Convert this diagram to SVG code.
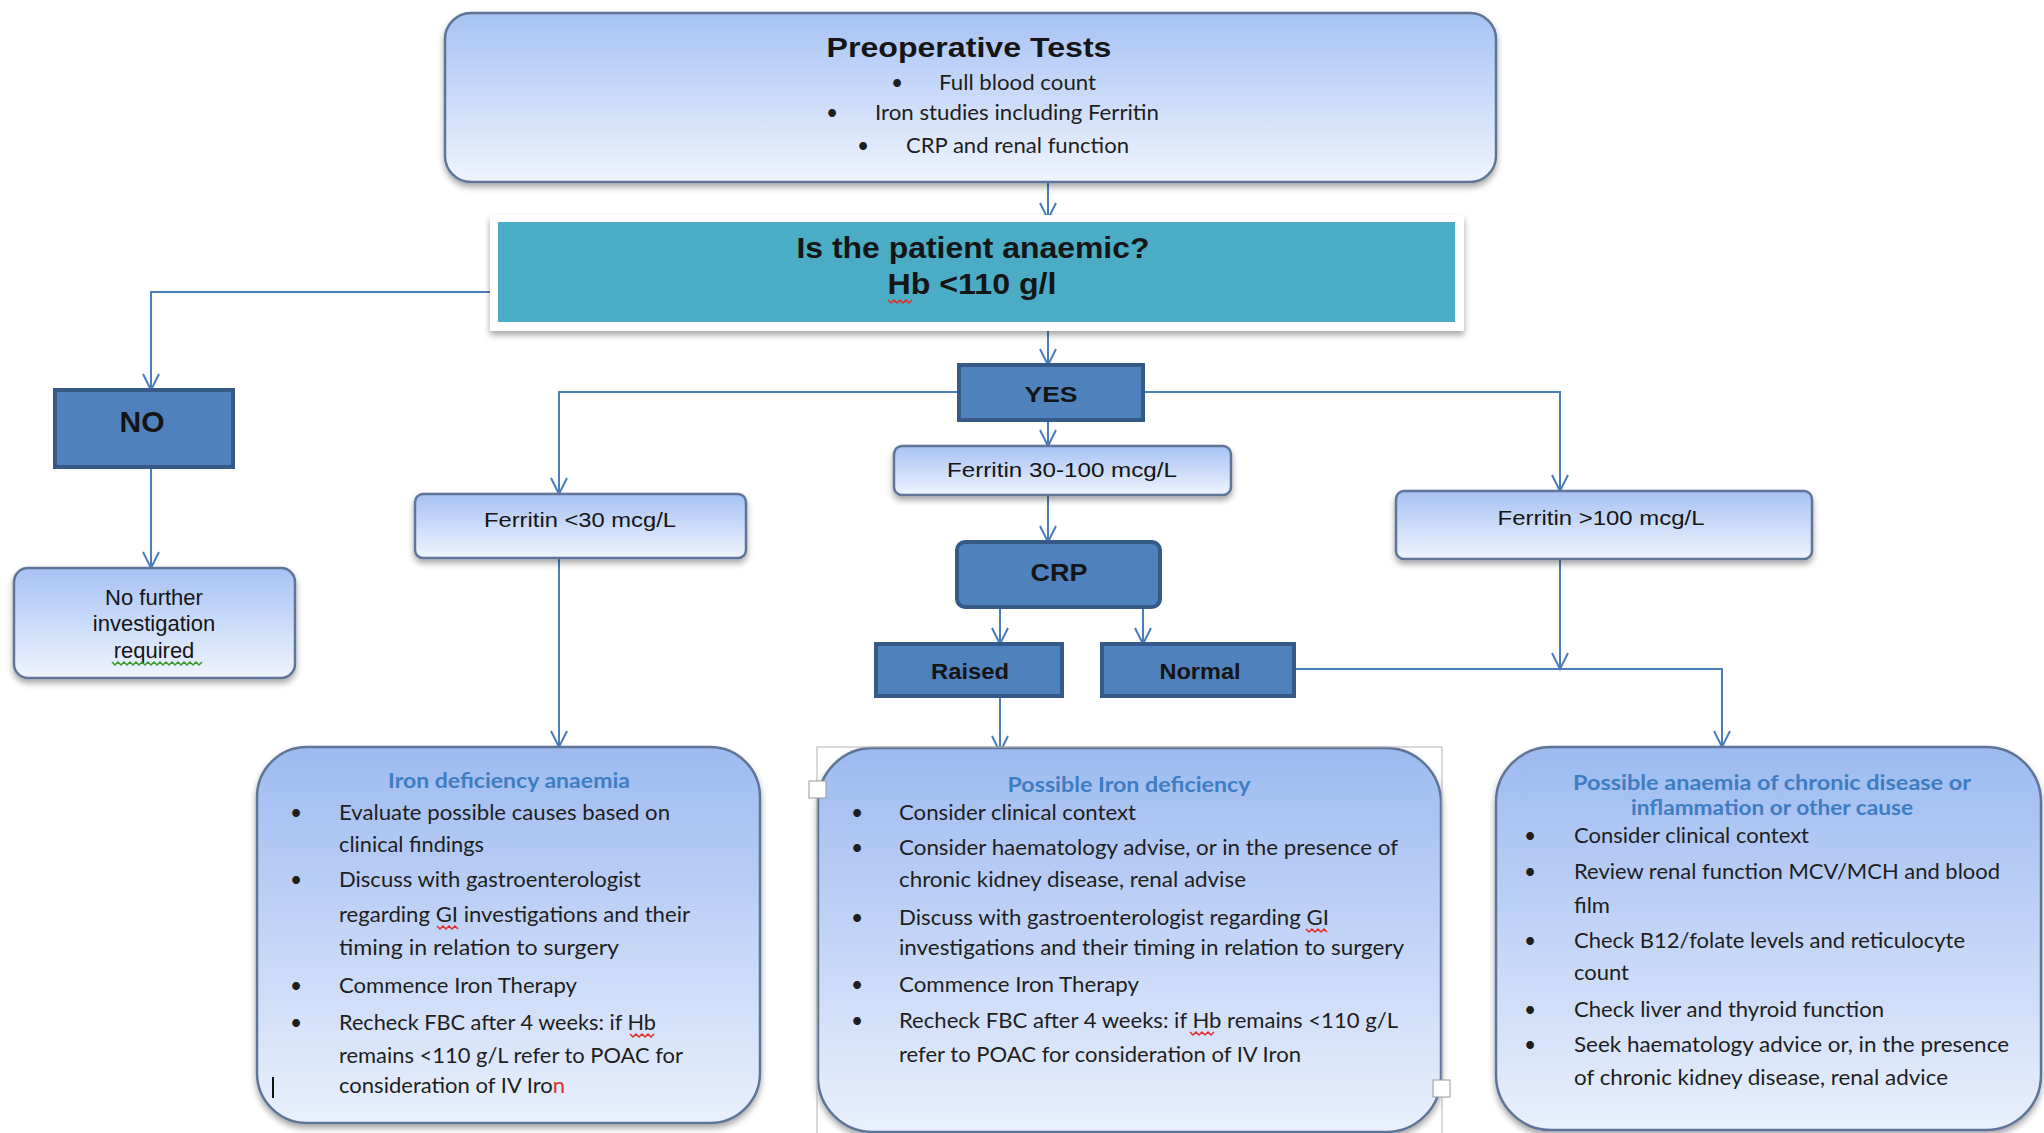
<svg xmlns="http://www.w3.org/2000/svg" width="2044" height="1133" viewBox="0 0 2044 1133">
<defs>
<style>
.conn{fill:none;stroke:#4a7ebb;stroke-width:2}
.dark{fill:#4f81bd;stroke:#355a88;stroke-width:4}
.light{fill:url(#gLight);stroke:#5f7598;stroke-width:2.5}
.big{fill:url(#gBig);stroke:#5f7598;stroke-width:2.5}
.a{font-family:"Liberation Sans",Arial,sans-serif;fill:#151515}
.ab{font-family:"Liberation Sans",Arial,sans-serif;font-weight:bold;fill:#151515}
.c{font-family:Lato,"Liberation Sans",sans-serif;fill:#1e1e1e;font-size:21px}
.t{font-family:Lato,"Liberation Sans",sans-serif;font-weight:bold;fill:#3f7dc2;font-size:21px}
.sq{fill:none;stroke:#e0302a;stroke-width:1.5}
</style>
<linearGradient id="gLight" x1="0" y1="0" x2="0" y2="1">
<stop offset="0" stop-color="#a6c2f3"/>
<stop offset="1" stop-color="#eff4fe"/>
</linearGradient>
<linearGradient id="gBig" x1="0" y1="0" x2="0" y2="1">
<stop offset="0" stop-color="#9dbaf0"/>
<stop offset="1" stop-color="#e9f0fd"/>
</linearGradient>
<filter id="sh" x="-5%" y="-10%" width="110%" height="130%">
<feDropShadow dx="0" dy="4" stdDeviation="3" flood-color="#000" flood-opacity="0.35"/>
</filter>
<marker id="arr" markerUnits="userSpaceOnUse" markerWidth="20" markerHeight="20" viewBox="0 0 20 20" refX="18" refY="10" orient="auto">
<path d="M2,2 L18,10 L2,18" fill="none" stroke="#4a7ebb" stroke-width="2"/>
</marker>
</defs>
<rect width="2044" height="1133" fill="#ffffff"/>

<g id="connectors">
<path class="conn" d="M1048,182 V219" marker-end="url(#arr)"/>
<path class="conn" d="M1048,322 V365" marker-end="url(#arr)"/>
<path class="conn" d="M498,292 H151 V390" marker-end="url(#arr)"/>
<path class="conn" d="M151,467 V568" marker-end="url(#arr)"/>
<path class="conn" d="M959,392 H559 V494" marker-end="url(#arr)"/>
<path class="conn" d="M1143,392 H1560 V491" marker-end="url(#arr)"/>
<path class="conn" d="M1048,420 V446" marker-end="url(#arr)"/>
<path class="conn" d="M1048,495 V542" marker-end="url(#arr)"/>
<path class="conn" d="M1000,607 V644" marker-end="url(#arr)"/>
<path class="conn" d="M1143,607 V644" marker-end="url(#arr)"/>
<path class="conn" d="M1000,696 V752" marker-end="url(#arr)"/>
<path class="conn" d="M1294,669 H1722 V747" marker-end="url(#arr)"/>
<path class="conn" d="M1560,559 V669" marker-end="url(#arr)"/>
<path class="conn" d="M559,558 V747" marker-end="url(#arr)"/>
</g>

<g id="preop">
<rect class="light" x="445" y="13" width="1051" height="169" rx="26" filter="url(#sh)"/>
<text class="ab" x="969" y="57" font-size="27" text-anchor="middle" textLength="285" lengthAdjust="spacingAndGlyphs">Preoperative Tests</text>
<text class="c" x="897" y="90" font-size="17" text-anchor="middle">•</text>
<text class="c" x="939" y="90" font-size="17" textLength="157" lengthAdjust="spacingAndGlyphs">Full blood count</text>
<text class="c" x="832" y="120" font-size="17" text-anchor="middle">•</text>
<text class="c" x="875" y="120" font-size="17" textLength="284" lengthAdjust="spacingAndGlyphs">Iron studies including Ferritin</text>
<text class="c" x="863" y="153" font-size="17" text-anchor="middle">•</text>
<text class="c" x="906" y="153" font-size="17" textLength="223" lengthAdjust="spacingAndGlyphs">CRP and renal function</text>
</g>

<g id="anaemic">
<rect x="490" y="215" width="974" height="116" fill="#ffffff" filter="url(#sh)"/>
<rect x="498" y="222" width="957" height="100" fill="#4bacc6"/>
<text class="ab" x="973" y="258" font-size="30" text-anchor="middle" textLength="353" lengthAdjust="spacingAndGlyphs">Is the patient anaemic?</text>
<text class="ab" x="972" y="294" font-size="30" text-anchor="middle" textLength="169" lengthAdjust="spacingAndGlyphs">Hb &lt;110 g/l</text>
<path class="sq" d="M888,300 l3,3 l3,-3 l3,3 l3,-3 l3,3 l3,-3 l3,3 l3,-3"/>
</g>

<g id="no">
<rect class="dark" x="55" y="390" width="178" height="77"/>
<text class="ab" x="142" y="432" font-size="30" text-anchor="middle">NO</text>
</g>

<g id="nofurther">
<rect class="light" x="14" y="568" width="281" height="110" rx="14" filter="url(#sh)"/>
<text class="a" x="154" y="605" font-size="22" text-anchor="middle">No further</text>
<text class="a" x="154" y="631" font-size="22" text-anchor="middle">investigation</text>
<text class="a" x="154" y="658" font-size="22" text-anchor="middle">required</text>
<path d="M112,662 l3,3 l3,-3 l3,3 l3,-3 l3,3 l3,-3 l3,3 l3,-3 l3,3 l3,-3 l3,3 l3,-3 l3,3 l3,-3 l3,3 l3,-3 l3,3 l3,-3 l3,3 l3,-3 l3,3 l3,-3 l3,3 l3,-3 l3,3 l3,-3 l3,3 l3,-3 l3,3 l3,-3" fill="none" stroke="#3a9a2a" stroke-width="1.5"/>
</g>

<g id="yes">
<rect class="dark" x="959" y="365" width="184" height="55"/>
<text class="ab" x="1051" y="402" font-size="22" text-anchor="middle" textLength="53" lengthAdjust="spacingAndGlyphs">YES</text>
</g>

<g id="ferritin-low">
<rect class="light" x="415" y="494" width="331" height="64" rx="8" filter="url(#sh)"/>
<text class="a" x="580" y="527" font-size="21" text-anchor="middle" textLength="192" lengthAdjust="spacingAndGlyphs">Ferritin &lt;30 mcg/L</text>
</g>

<g id="ferritin-mid">
<rect class="light" x="894" y="446" width="337" height="49" rx="8" filter="url(#sh)"/>
<text class="a" x="1062" y="477" font-size="21" text-anchor="middle" textLength="230" lengthAdjust="spacingAndGlyphs">Ferritin 30-100 mcg/L</text>
</g>

<g id="ferritin-high">
<rect class="light" x="1396" y="491" width="416" height="68" rx="8" filter="url(#sh)"/>
<text class="a" x="1601" y="525" font-size="21" text-anchor="middle" textLength="207" lengthAdjust="spacingAndGlyphs">Ferritin &gt;100 mcg/L</text>
</g>

<g id="crp">
<rect class="dark" x="957" y="542" width="203" height="65" rx="8"/>
<text class="ab" x="1059" y="581" font-size="23" text-anchor="middle" textLength="57" lengthAdjust="spacingAndGlyphs">CRP</text>
</g>

<g id="raised">
<rect class="dark" x="876" y="644" width="186" height="52"/>
<text class="ab" x="970" y="679" font-size="22" text-anchor="middle" textLength="78" lengthAdjust="spacingAndGlyphs">Raised</text>
</g>

<g id="normal">
<rect class="dark" x="1102" y="644" width="192" height="52"/>
<text class="ab" x="1200" y="679" font-size="22" text-anchor="middle" textLength="81" lengthAdjust="spacingAndGlyphs">Normal</text>
</g>

<g id="iron-deficiency">
<rect class="big" x="257" y="747" width="503" height="376" rx="50" filter="url(#sh)"/>
<text class="t" x="509" y="788" text-anchor="middle" textLength="242" lengthAdjust="spacingAndGlyphs">Iron deficiency anaemia</text>
<g class="c">
<text x="296" y="820" text-anchor="middle">•</text>
<text x="339" y="820" textLength="331" lengthAdjust="spacingAndGlyphs">Evaluate possible causes based on</text>
<text x="339" y="852" textLength="145" lengthAdjust="spacingAndGlyphs">clinical findings</text>
<text x="296" y="887" text-anchor="middle">•</text>
<text x="339" y="887" textLength="302" lengthAdjust="spacingAndGlyphs">Discuss with gastroenterologist</text>
<text x="339" y="922" textLength="351" lengthAdjust="spacingAndGlyphs">regarding GI investigations and their</text>
<text x="339" y="955" textLength="280" lengthAdjust="spacingAndGlyphs">timing in relation to surgery</text>
<text x="296" y="993" text-anchor="middle">•</text>
<text x="339" y="993" textLength="238" lengthAdjust="spacingAndGlyphs">Commence Iron Therapy</text>
<text x="296" y="1030" text-anchor="middle">•</text>
<text x="339" y="1030" textLength="317" lengthAdjust="spacingAndGlyphs">Recheck FBC after 4 weeks: if Hb</text>
<text x="339" y="1063" textLength="344" lengthAdjust="spacingAndGlyphs">remains  &lt;110 g/L refer to POAC for</text>
<text x="339" y="1093" textLength="226" lengthAdjust="spacingAndGlyphs">consideration of IV Iro<tspan fill="#e0302a">n</tspan></text>
</g>
<path class="sq" d="M437,926 l3,3 l3,-3 l3,3 l3,-3 l3,3 l3,-3 l3,3"/>
<path class="sq" d="M630,1034 l3,3 l3,-3 l3,3 l3,-3 l3,3 l3,-3 l3,3 l3,-3"/>
<line x1="273" y1="1077" x2="273" y2="1098" stroke="#111" stroke-width="2"/>
</g>

<g id="possible-iron">
<rect class="big" x="818" y="748" width="623" height="384" rx="55" filter="url(#sh)"/>
<rect x="817" y="747" width="625" height="400" fill="none" stroke="#b4b4b4" stroke-width="1"/>
<rect x="809" y="781" width="17" height="17" fill="#ffffff" stroke="#9a9a9a" stroke-width="1"/>
<rect x="1433" y="1080" width="17" height="17" fill="#ffffff" stroke="#9a9a9a" stroke-width="1"/>
<text class="t" x="1129" y="792" text-anchor="middle" textLength="243" lengthAdjust="spacingAndGlyphs">Possible Iron deficiency</text>
<g class="c">
<text x="857" y="820" text-anchor="middle">•</text>
<text x="899" y="820" textLength="237" lengthAdjust="spacingAndGlyphs">Consider clinical context</text>
<text x="857" y="855" text-anchor="middle">•</text>
<text x="899" y="855" textLength="499" lengthAdjust="spacingAndGlyphs">Consider haematology advise, or in the presence of</text>
<text x="899" y="887" textLength="347" lengthAdjust="spacingAndGlyphs">chronic kidney disease, renal advise</text>
<text x="857" y="925" text-anchor="middle">•</text>
<text x="899" y="925" textLength="430" lengthAdjust="spacingAndGlyphs">Discuss with gastroenterologist regarding GI</text>
<text x="899" y="955" textLength="505" lengthAdjust="spacingAndGlyphs">investigations and their timing in relation to surgery</text>
<text x="857" y="992" text-anchor="middle">•</text>
<text x="899" y="992" textLength="240" lengthAdjust="spacingAndGlyphs">Commence Iron Therapy</text>
<text x="857" y="1028" text-anchor="middle">•</text>
<text x="899" y="1028" textLength="499" lengthAdjust="spacingAndGlyphs">Recheck FBC after 4 weeks: if Hb remains  &lt;110 g/L</text>
<text x="899" y="1062" textLength="402" lengthAdjust="spacingAndGlyphs">refer to POAC for consideration of IV Iron</text>
</g>
<path class="sq" d="M1306,929 l3,3 l3,-3 l3,3 l3,-3 l3,3 l3,-3 l3,3"/>
<path class="sq" d="M1190,1032 l3,3 l3,-3 l3,3 l3,-3 l3,3 l3,-3 l3,3 l3,-3"/>
</g>

<g id="chronic-disease">
<rect class="big" x="1496" y="747" width="545" height="383" rx="55" filter="url(#sh)"/>
<text class="t" x="1772" y="790" text-anchor="middle" textLength="398" lengthAdjust="spacingAndGlyphs">Possible anaemia of chronic disease or</text>
<text class="t" x="1772" y="815" text-anchor="middle" textLength="282" lengthAdjust="spacingAndGlyphs">inflammation or other cause</text>
<g class="c">
<text x="1530" y="843" text-anchor="middle">•</text>
<text x="1574" y="843" textLength="235" lengthAdjust="spacingAndGlyphs">Consider clinical context</text>
<text x="1530" y="879" text-anchor="middle">•</text>
<text x="1574" y="879" textLength="426" lengthAdjust="spacingAndGlyphs">Review renal function MCV/MCH and blood</text>
<text x="1574" y="913" textLength="36" lengthAdjust="spacingAndGlyphs">film</text>
<text x="1530" y="948" text-anchor="middle">•</text>
<text x="1574" y="948" textLength="391" lengthAdjust="spacingAndGlyphs">Check B12/folate levels and reticulocyte</text>
<text x="1574" y="980" textLength="55" lengthAdjust="spacingAndGlyphs">count</text>
<text x="1530" y="1017" text-anchor="middle">•</text>
<text x="1574" y="1017" textLength="310" lengthAdjust="spacingAndGlyphs">Check liver and thyroid function</text>
<text x="1530" y="1052" text-anchor="middle">•</text>
<text x="1574" y="1052" textLength="435" lengthAdjust="spacingAndGlyphs">Seek haematology advice or, in the presence</text>
<text x="1574" y="1085" textLength="374" lengthAdjust="spacingAndGlyphs">of chronic kidney disease, renal advice</text>
</g>
</g>
</svg>
